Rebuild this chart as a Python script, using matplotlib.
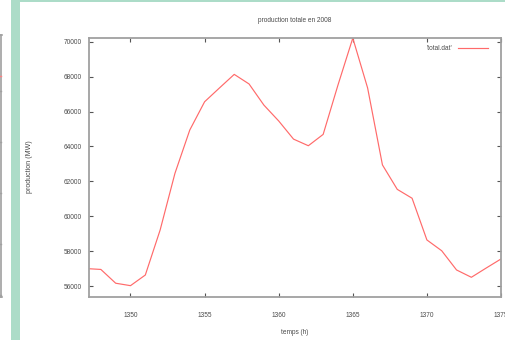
import matplotlib
matplotlib.use("Agg")
import matplotlib.pyplot as plt
from matplotlib.lines import Line2D
from matplotlib.patches import Rectangle

hours = [1347, 1348, 1349, 1350, 1351, 1352, 1353, 1354, 1355, 1356, 1357,
         1358, 1359, 1360, 1361, 1362, 1363, 1364, 1365, 1366, 1367, 1368,
         1369, 1370, 1371, 1372, 1373, 1374, 1375]
production = [57000, 56950, 56160, 56020, 56630, 59210, 62460, 64940, 66560,
              67350, 68130, 67580, 66370, 65460, 64420, 64040, 64690, 67520,
              70210, 67350, 62940, 61540, 61030, 58640, 58020, 56920, 56500,
              57030, 57550]
xticks = [1350, 1355, 1360, 1365, 1370, 1375]
yticks = [56000, 58000, 60000, 62000, 64000, 66000, 68000, 70000]

plt.rcParams['font.family'] = ['Liberation Sans', 'DejaVu Sans']
FS = 4.7
TXT = '#4a4a4a'
W, H = 506, 340
fig = plt.figure(figsize=(W / 100, H / 100), dpi=100)
fig.patch.set_facecolor('white')

def px(x0, y0, x1, y1):
    return [x0 / W, x1 / W], [1 - y0 / H, 1 - y1 / H]

# screenshot decorations
green = '#acdcc8'
fig.add_artist(Rectangle((11 / W, 0), 9 / W, 1, transform=fig.transFigure,
                         color=green, lw=0))
fig.add_artist(Rectangle((20 / W, 1 - 2 / H), 1, 2 / H, transform=fig.transFigure,
                         color=green, lw=0))
gray = '#a0a0a0'
xs, ys = px(1.5, 35, 1.5, 297)
fig.add_artist(Line2D(xs, ys, color=gray, lw=1.2, transform=fig.transFigure))
for yy in [35, 297]:
    xs, ys = px(0, yy, 2, yy)
    fig.add_artist(Line2D(xs, ys, color=gray, lw=1.2, transform=fig.transFigure))
for yy in [91, 142, 193, 244, 295]:
    xs, ys = px(0, yy, 1.5, yy)
    fig.add_artist(Line2D(xs, ys, color=gray, lw=1.0, transform=fig.transFigure))
xs, ys = px(0, 76, 1.5, 76)
fig.add_artist(Line2D(xs, ys, color='#ff8080', lw=1.0, transform=fig.transFigure))

ax = fig.add_axes([89 / W, 43 / H, (501 - 89) / W, (297 - 38) / H])
ax.plot(hours, production, color='#ff6a6a', lw=0.85, label="'total.dat'")
ax.set_xlim(1347.2, 1375)
ax.set_ylim(55370, 70215)
ax.set_xticks(xticks)
ax.set_yticks(yticks)
ax.set_xticklabels([str(t) for t in xticks])
ax.set_yticklabels([str(t) for t in yticks])
ax.tick_params(direction='in', length=3, width=0.8, color='#555555',
               top=True, right=True, labelsize=FS, labelcolor=TXT, pad=5)
ax.tick_params(axis='x', pad=11)
for s in ax.spines.values():
    s.set_color(gray)
    s.set_linewidth(1.3)

fig.text(295 / W, 1 - 20 / H, 'production totale en 2008', ha='center', va='center',
         fontsize=FS, color=TXT)
fig.text(295 / W, 1 - 333 / H, 'temps (h)', ha='center', va='center',
         fontsize=FS, color=TXT)
fig.text(30 / W, 1 - 167 / H, 'production (MW)', ha='center', va='center',
         rotation=90, fontsize=5.1, color=TXT)

leg = ax.legend(loc='upper right', frameon=False, fontsize=FS,
                handlelength=4.6, handletextpad=0.8, markerfirst=False,
                borderpad=0, borderaxespad=0,
                bbox_to_anchor=((488 - 89) / 412, (297 - 45) / 259))
for t in leg.get_texts():
    t.set_color(TXT)

fig.savefig('out.png', dpi=100, facecolor='white')
